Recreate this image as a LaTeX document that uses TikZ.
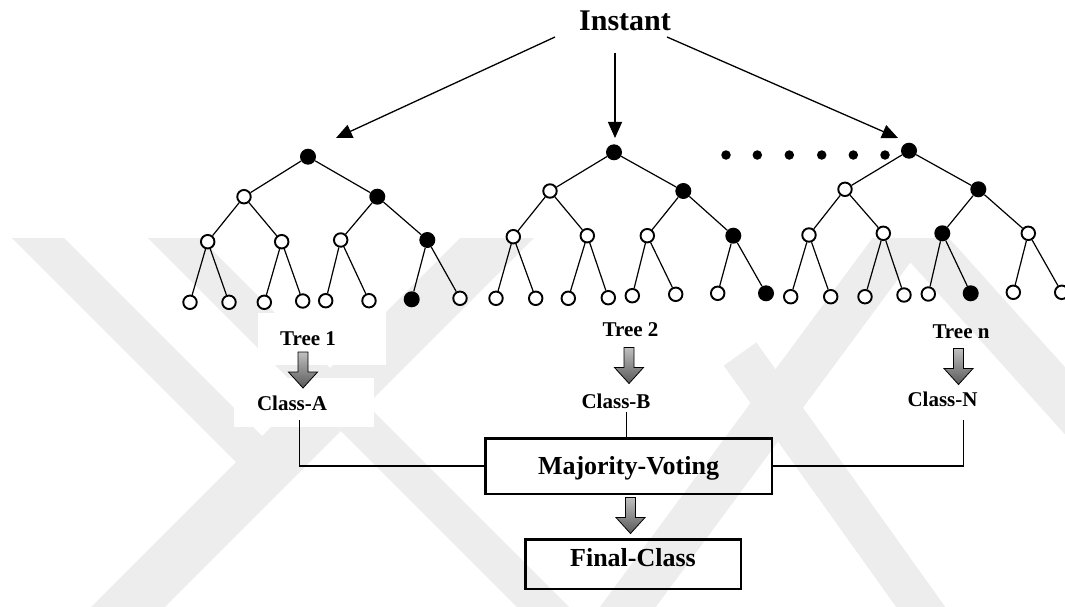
\documentclass[tikz,border=0pt]{standalone}
\usepackage{fontspec}
\setmainfont{Liberation Serif}
\usetikzlibrary{arrows.meta}
\begin{document}
\begin{tikzpicture}[x=1pt,y=-1pt,
  opn/.style={circle,draw,line width=1.9pt,fill=white,minimum size=13.5pt,inner sep=0pt},
  ful/.style={circle,fill=black,minimum size=16pt,inner sep=0pt},
  twig/.style={line width=1.2pt},
  feed/.style={line width=1.3pt,-{Triangle[length=16pt,width=14pt]}},
  lbl/.style={font=\bfseries\fontsize{21}{24}\selectfont,inner sep=0pt,anchor=base},
  box/.style={draw,line width=2.5pt,inner sep=0pt,text height=17.2pt,
    font=\bfseries\fontsize{26}{30}\selectfont},
  wire/.style={line width=1.2pt},
  wm/.style={line width=#1,draw=black!7,line cap=butt},
  mask/.style={fill=white},
  pics/downarrow/.style={code={
    \draw[line width=0.8pt,top color=black!25,bottom color=black!65]
      (-5,-18) -- (5,-18) -- (5,2) -- (14.5,2) -- (0,18) -- (-14.5,2) -- (-5,2) -- cycle;}},
]
\useasboundingbox (0,0) rectangle (1065,607);

% faint background emblem
\begin{scope}
  \clip (0,238) rectangle (1065,607);
  \draw[wm=37pt] (-12,188) -- (267,467);
  \draw[wm=52pt] (78,657) -- (547,188);
  \draw[wm=37pt] (124,188) -- (593,657);
  \draw[wm=40pt] (740,354) -- (950,648);
  \draw[wm=45pt] (599,646) -- (930,198);
  \draw[wm=45pt] (880,195) -- (1120,462);
\end{scope}
% white panels behind the labels
\fill[mask] (258,313) rectangle (386,365);
\fill[mask] (234,378) rectangle (374,427);
\fill[mask] (580,306) rectangle (707,360);
\fill[mask] (559,360) rectangle (697,423);

% input
\node[font=\bfseries\fontsize{30}{34}\selectfont,inner sep=0pt,anchor=base] (inst) at (625,30.5) {Instant};
\coordinate (s1) at (555,37);  \coordinate (e1) at (336,138);
\coordinate (s2) at (615,53);  \coordinate (e2) at (615,138);
\coordinate (s3) at (667,37);  \coordinate (e3) at (898,138);
\draw[feed] (s1) -- (e1);
\draw[feed] (s2) -- (e2);
\draw[feed] (s3) -- (e3);

% tree 1
\node[ful] (a0) at (308,156.7) {};
\node[opn] (a1) at (244,196.7) {};
\node[ful] (a2) at (377.3,196.7) {};
\node[opn] (a3) at (207.7,241.7) {};
\node[opn] (a4) at (281.7,241.7) {};
\node[opn] (a5) at (340.7,240) {};
\node[ful] (a6) at (427.3,240) {};
\node[opn] (a7) at (190,302.3) {};
\node[opn] (a8) at (229,302.3) {};
\node[opn] (a9) at (264.3,302.3) {};
\node[opn] (a10) at (302.7,301) {};
\node[opn] (a11) at (325.7,300.7) {};
\node[opn] (a12) at (369,300.7) {};
\node[ful] (a13) at (411.7,299.3) {};
\node[opn] (a14) at (460,298.3) {};

% tree 2
\node[ful] (b0) at (614,152.3) {};
\node[opn] (b1) at (550,191) {};
\node[ful] (b2) at (683.3,191) {};
\node[opn] (b3) at (513.3,236.7) {};
\node[opn] (b4) at (587.3,235.7) {};
\node[opn] (b5) at (647.3,235.7) {};
\node[ful] (b6) at (733.3,235.7) {};
\node[opn] (b7) at (496,298.3) {};
\node[opn] (b8) at (535.7,298.3) {};
\node[opn] (b9) at (568.3,298.3) {};
\node[opn] (b10) at (608.3,297.7) {};
\node[opn] (b11) at (632.3,295.7) {};
\node[opn] (b12) at (675.7,294.3) {};
\node[opn] (b13) at (717.7,293.3) {};
\node[ful] (b14) at (766,293.3) {};

% tree n
\node[ful] (c0) at (909,150.7) {};
\node[opn] (c1) at (845,189.3) {};
\node[ful] (c2) at (978.3,189.3) {};
\node[opn] (c3) at (809,235) {};
\node[opn] (c4) at (883.3,233.3) {};
\node[ful] (c5) at (942.3,233.3) {};
\node[opn] (c6) at (1028.3,233.3) {};
\node[opn] (c7) at (790.7,296.7) {};
\node[opn] (c8) at (830.7,296.7) {};
\node[opn] (c9) at (865,296.7) {};
\node[opn] (c10) at (904,295) {};
\node[opn] (c11) at (928.3,294) {};
\node[ful] (c12) at (970.7,293.3) {};
\node[opn] (c13) at (1013.3,292.3) {};
\node[opn] (c14) at (1061.7,292.3) {};

\foreach \t in {a,b,c}
  \foreach \p/\q in {0/1,0/2,1/3,1/4,2/5,2/6,3/7,3/8,4/9,4/10,5/11,5/12,6/13,6/14}
    \draw[twig] (\t\p) -- (\t\q);

% ellipsis between the trees
\foreach \x [count=\i] in {726,757.3,789.3,821.7,853.3,885}
  \node[circle,fill=black,minimum size=9.5pt,inner sep=0pt] (d\i) at (\x,155) {};

% tree outputs
\node[lbl] (t1) at (308,345) {Tree 1};
\node[lbl] (t2) at (630.5,336.7) {Tree 2};
\node[lbl] (tn) at (961,338) {Tree n};
\pic at (303,370) {downarrow};
\pic at (629,365.5) {downarrow};
\pic at (958.5,366.5) {downarrow};
\node[lbl] (ca) at (292,410) {Class-A};
\node[lbl] (cb) at (616,408.3) {Class-B};
\node[lbl] (cn) at (942.5,406.7) {Class-N};

% voting
\node[box,minimum width=286.5pt,minimum height=55.5pt,text depth=0pt] (mv) at (628.5,466) {Majority-Voting};
\node[box,minimum width=215.5pt,minimum height=49.5pt,text depth=13.2pt] (fc) at (633,564) {Final-Class};
\pic at (630.5,515.5) {downarrow};

\coordinate (wa) at (299.5,420);
\coordinate (wb) at (626.7,412);
\coordinate (wn) at (963.3,420);
\draw[wire] (wa) |- (mv.west);
\draw[wire] (wb) -- (wb |- mv.north);
\draw[wire] (wn) |- (mv.east);
\end{tikzpicture}
\end{document}
